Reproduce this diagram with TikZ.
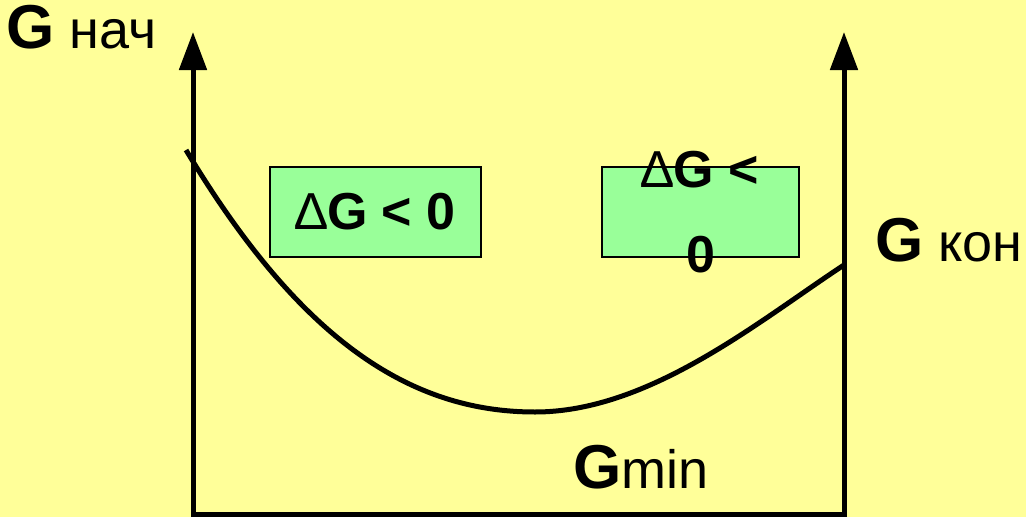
\documentclass[tikz,border=0pt]{standalone}
\usepackage{fontspec}
\setmainfont{Liberation Sans}
\usetikzlibrary{arrows.meta}
\definecolor{bgyellow}{HTML}{FFFF99}
\definecolor{boxgreen}{HTML}{99FF99}
\newcommand{\bigG}{{\fontsize{62}{64}\selectfont\bfseries G}}

\begin{document}
\begin{tikzpicture}[x=1pt, y=-1pt,
    axis/.style = {line width=5pt, {Triangle[length=38pt,width=27pt]}-{Triangle[length=38pt,width=27pt]}},
    gbox/.style = {draw, line width=2pt, fill=boxgreen, minimum height=90pt, inner sep=0pt},
    dgtext/.style = {font=\fontsize{52}{85}\selectfont\bfseries, align=center, inner sep=0pt},
    glabel/.style = {anchor=base west, inner sep=0pt, font=\fontsize{54}{64}\selectfont}]
\fill[bgyellow] (0,0) rectangle (1026,517);
\useasboundingbox (0,0) rectangle (1026,517);

   % axes: left, bottom, right
   \draw[axis] (193,32) -- (193,514) -- (844,514) -- (844,32);

   % the curve G from start to end
   \draw[line width=5pt] (186,150) .. controls (300,340) and (410,412) .. (535,412)
        .. controls (650,412) and (760,320) .. (844,265);

   % boxes
   \node[gbox, minimum width=211pt] (box1) at (375.5,212) {};
   \node[dgtext] (dg1) at (box1.center) {{\mdseries ∆}G < 0};
   \node[gbox, minimum width=197pt] (box2) at (700.5,212) {};
   \node[dgtext] (dg2) at (box2.center) {{\mdseries ∆}G <\\0};

   % labels
   \node[glabel] (gnach) at (6,48) {\bigG{} нач};
   \node[glabel] (gkon) at (875,261) {\bigG{} кон};
   \node[glabel] (gmin) at (573,488) {\bigG{}min};
\end{tikzpicture}
\end{document}
